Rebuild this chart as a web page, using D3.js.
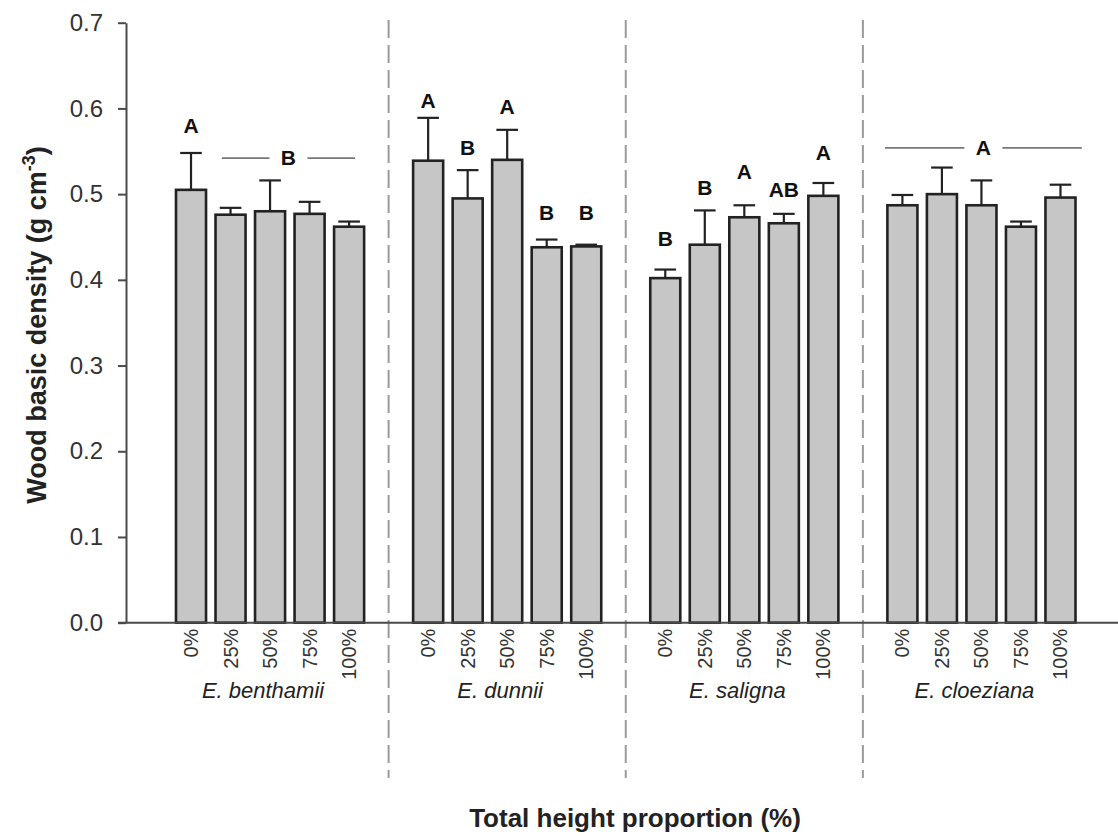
<!DOCTYPE html>
<html>
<head>
<meta charset="utf-8">
<script src="https://cdn.jsdelivr.net/npm/d3@7"></script>
<style>
	body{margin:0;background:#fff;}
	text{font-family:'Liberation Sans',Arial,sans-serif;}
</style>
</head>
<body>
<div id="chart_div"></div>
<script>

////////////////////////////////////////
// data
////////////////////////////////////////

var species = ['E. benthamii','E. dunnii','E. saligna','E. cloeziana'];
var heightLabels = ['0%','25%','50%','75%','100%'];

// mean basic density per species (rows) and height (columns)
var density = [
	[0.505,0.476,0.480,0.477,0.462],
	[0.539,0.495,0.540,0.438,0.439],
	[0.402,0.441,0.473,0.466,0.498],
	[0.487,0.500,0.487,0.462,0.496]
];
// upper error bar
var errUp = [
	[0.043,0.008,0.036,0.014,0.006],
	[0.050,0.033,0.035,0.009,0.002],
	[0.010,0.040,0.014,0.011,0.015],
	[0.012,0.031,0.029,0.006,0.015]
];
// significance letters per bar and the density level they sit at
var letters = [
	['A','','','',''],
	['A','B','A','B','B'],
	['B','B','A','AB','A'],
	['','','','','']
];
var letterAt = [
	[0.571,0,0,0,0],
	[0.600,0.546,0.594,0.470,0.470],
	[0.440,0.499,0.518,0.497,0.540],
	[0,0,0,0,0]
];
// letters shared by several bars: [species, from bar, to bar (fractional bar index), letter, level]
var spanLetters = [
	[0,0.78,4.15,'B',0.542],
	[3,-0.44,4.54,'A',0.554]
];

var yTicks = [0,0.1,0.2,0.3,0.4,0.5,0.6,0.7];

////////////////////////////////////////
// svg + scales
////////////////////////////////////////

var w = 1118;
var h = 836;

var vis = d3.select('#chart_div')
	.append('svg')
	.attr('width',w)
	.attr('height',h);

var slots = [];
species.forEach(function(s,i){
	heightLabels.forEach(function(p){ slots.push(s+'|'+p); });
	if(i<species.length-1) slots.push('gap'+i);
});

var x = d3.scaleBand()
	.domain(slots)
	.range([126,1125.5])
	.paddingInner(0.24)
	.paddingOuter(1.265);

var y = d3.scaleLinear()
	.domain([0,0.7])
	.range([622.7,22.7]);

var bw = x.bandwidth();

var bars = [];
species.forEach(function(s,i){
	heightLabels.forEach(function(p,j){
		bars.push({
			key:s+'|'+p,
			label:p,
			value:density[i][j],
			err:errUp[i][j],
			letter:letters[i][j],
			letterAt:letterAt[i][j]
		});
	});
});

function cx(key){ return x(key)+bw/2; }

////////////////////////////////////////
// dividers between species
////////////////////////////////////////

vis.selectAll('line.divider')
	.data(species.slice(0,-1))
	.enter()
		.append('line')
		.attr('class','divider')
		.attr('x1',function(d,i){ return cx('gap'+i); })
		.attr('x2',function(d,i){ return cx('gap'+i); })
		.attr('y1',20)
		.attr('y2',778)
		.attr('stroke','#9a9a9a')
		.attr('stroke-width',2)
		.attr('stroke-dasharray','18,7');

////////////////////////////////////////
// error bars + bars
////////////////////////////////////////

var eb = vis.selectAll('g.errbar')
	.data(bars)
	.enter()
		.append('g')
		.attr('class','errbar')
		.attr('stroke','#222')
		.attr('stroke-width',2.2);

eb.append('line')
	.attr('x1',function(d){ return cx(d.key); })
	.attr('x2',function(d){ return cx(d.key); })
	.attr('y1',function(d){ return y(d.value); })
	.attr('y2',function(d){ return y(d.value+d.err); });

eb.append('line')
	.attr('x1',function(d){ return cx(d.key)-bw*0.36; })
	.attr('x2',function(d){ return cx(d.key)+bw*0.36; })
	.attr('y1',function(d){ return y(d.value+d.err); })
	.attr('y2',function(d){ return y(d.value+d.err); });

vis.selectAll('rect.bar')
	.data(bars)
	.enter()
		.append('rect')
		.attr('class','bar')
		.attr('x',function(d){ return x(d.key); })
		.attr('y',function(d){ return y(d.value); })
		.attr('width',bw)
		.attr('height',function(d){ return y(0)-y(d.value); })
		.attr('fill','#c6c6c6')
		.attr('stroke','#222')
		.attr('stroke-width',2.6);

////////////////////////////////////////
// letters
////////////////////////////////////////

vis.selectAll('text.letter')
	.data(bars.filter(function(d){ return d.letter!==''; }))
	.enter()
		.append('text')
		.attr('class','letter')
		.attr('x',function(d){ return cx(d.key); })
		.attr('y',function(d){ return y(d.letterAt); })
		.attr('text-anchor','middle')
		.attr('font-size',21)
		.attr('font-weight','bold')
		.attr('fill','#111')
		.text(function(d){ return d.letter; });

var sl = vis.selectAll('g.spanLetter')
	.data(spanLetters)
	.enter()
		.append('g')
		.attr('class','spanLetter');

function barPos(d,f){ return cx(species[d[0]]+'|'+heightLabels[0])+f*x.step(); }
function spanL(d){ return barPos(d,d[1]); }
function spanR(d){ return barPos(d,d[2]); }
function spanC(d){ return (spanL(d)+spanR(d))/2; }

sl.append('line')
	.attr('x1',spanL)
	.attr('x2',function(d){ return spanC(d)-19; })
	.attr('y1',function(d){ return y(d[4]); })
	.attr('y2',function(d){ return y(d[4]); });
sl.append('line')
	.attr('x1',function(d){ return spanC(d)+19; })
	.attr('x2',spanR)
	.attr('y1',function(d){ return y(d[4]); })
	.attr('y2',function(d){ return y(d[4]); });
sl.selectAll('line')
	.attr('stroke','#777')
	.attr('stroke-width',1.6);
sl.append('text')
	.attr('x',spanC)
	.attr('y',function(d){ return y(d[4]); })
	.attr('dy','0.35em')
	.attr('text-anchor','middle')
	.attr('font-size',21)
	.attr('font-weight','bold')
	.attr('fill','#111')
	.text(function(d){ return d[3]; });

////////////////////////////////////////
// axes
////////////////////////////////////////

var yAxis = vis.append('g')
	.attr('transform','translate(126,0)')
	.call(d3.axisLeft(y)
		.tickValues(yTicks)
		.tickFormat(d3.format('.1f'))
		.tickSize(8)
		.tickSizeOuter(0)
		.tickPadding(15));
yAxis.selectAll('path,line')
	.attr('stroke','#4a4a4a')
	.attr('stroke-width',2);
yAxis.selectAll('text')
	.attr('font-size',24)
	.attr('fill','#333')
	.style('font-family',"'Liberation Sans',Arial,sans-serif");

vis.append('line')
	.attr('x1',118)
	.attr('x2',w)
	.attr('y1',y(0))
	.attr('y2',y(0))
	.attr('stroke','#4a4a4a')
	.attr('stroke-width',2);

vis.selectAll('text.tickLabel')
	.data(bars)
	.enter()
		.append('text')
		.attr('class','tickLabel')
		.attr('transform',function(d){
			return 'translate('+cx(d.key)+','+(y(0)+6)+') rotate(-90)';
		})
		.attr('dy','0.35em')
		.attr('text-anchor','end')
		.attr('font-size',20)
		.attr('fill','#333')
		.text(function(d){ return d.label; });

vis.selectAll('text.species')
	.data(species)
	.enter()
		.append('text')
		.attr('class','species')
		.attr('x',function(s){
			return (x(s+'|'+heightLabels[0])+x(s+'|'+heightLabels[4])+bw)/2-7;
		})
		.attr('y',698)
		.attr('text-anchor','middle')
		.attr('font-size',22)
		.attr('font-style','italic')
		.attr('fill','#222')
		.text(function(s){ return s; });

vis.append('text')
	.attr('x',635)
	.attr('y',827)
	.attr('text-anchor','middle')
	.attr('font-size',26)
	.attr('font-weight','bold')
	.attr('fill','#222')
	.text('Total height proportion (%)');

var yt = vis.append('text')
	.attr('transform','translate(46,325) rotate(-90)')
	.attr('text-anchor','middle')
	.attr('font-size',27)
	.attr('font-weight','bold')
	.attr('fill','#222');
yt.append('tspan').text('Wood basic density (g cm');
yt.append('tspan')
	.attr('font-size',18)
	.attr('dy',-11)
	.text('-3');
yt.append('tspan')
	.attr('dy',11)
	.text(')');

</script>
</body>
</html>
